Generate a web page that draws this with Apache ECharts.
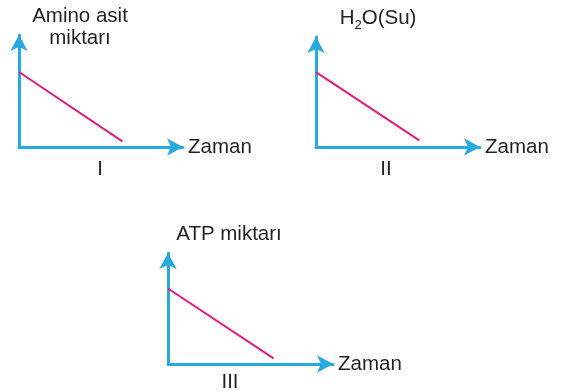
<!DOCTYPE html>
<html>
<head>
<meta charset="utf-8">
<script src="https://cdn.jsdelivr.net/npm/echarts@6/dist/echarts.min.js"></script>
<style>
  html, body { margin: 0; padding: 0; background: #fff; }
  #main { width: 562px; height: 392px; }
</style>
</head>
<body>
<div id="main"></div>
<script>
// each panel: one straight falling line, [time, amount]
var aminoLine = [[0, 6.7], [6.3, 0.5]];
var waterLine = [[0, 6.8], [6.3, 0.6]];
var atpLine = [[0, 6.8], [6.4, 0.5]];
var xName = 'Zaman';
var panelNames = ['I', 'II', 'III'];

var blue = '#27aae1';
var pink = '#e6197e';
var ink = '#231f20';
var font = 'Liberation Sans, Arial, sans-serif';

var grids = [
  { left: 19, top: 35, width: 164, height: 112 },
  { left: 316, top: 37, width: 164, height: 110 },
  { left: 168, top: 253, width: 165, height: 111 }
];

function xAx(i) {
  return {
    gridIndex: i, type: 'value', min: 0, max: 10,
    name: xName, nameLocation: 'end', nameGap: 5,
    nameTextStyle: { color: ink, fontSize: 20.5, fontFamily: font, verticalAlign: 'middle' },
    axisLine: { show: true, symbol: ['none', 'arrow'], symbolSize: [13, 16], lineStyle: { color: blue, width: 3 } },
    axisTick: { show: false }, axisLabel: { show: false }, splitLine: { show: false }
  };
}
function yAx(i) {
  return {
    gridIndex: i, type: 'value', min: 0, max: 10,
    axisLine: { show: true, symbol: ['none', 'arrow'], symbolSize: [13, 16], lineStyle: { color: blue, width: 3 } },
    axisTick: { show: false }, axisLabel: { show: false }, splitLine: { show: false }
  };
}
function lineSeries(i, data) {
  return {
    type: 'line', xAxisIndex: i, yAxisIndex: i, data: data,
    symbol: 'none', silent: true,
    lineStyle: { color: pink, width: 2 }
  };
}
function label(text, x, y, extra) {
  var style = { text: text, x: x, y: y, fill: ink, font: '20.5px ' + font, align: 'center', verticalAlign: 'middle' };
  if (extra) Object.assign(style, extra);
  return { type: 'text', style: style, silent: true };
}

var chart = echarts.init(document.getElementById('main'), null, { renderer: 'canvas' });
chart.setOption({
  animation: false,
  grid: grids,
  xAxis: [xAx(0), xAx(1), xAx(2)],
  yAxis: [yAx(0), yAx(1), yAx(2)],
  series: [lineSeries(0, aminoLine), lineSeries(1, waterLine), lineSeries(2, atpLine)],
  graphic: [
    label('Amino asit\nmiktarı', 80, 27, { lineHeight: 22 }),
    label('{a|H}{s|2}{a|O(Su)}', 378, 18, {
      rich: {
        a: { fontSize: 20.5, fontFamily: font, fill: ink },
        s: { fontSize: 13, fontFamily: font, fill: ink, padding: [14, 0, 0, 0] }
      }
    }),
    label('ATP miktarı', 229, 234),
    label(panelNames[0], 100, 169),
    label(panelNames[1], 386, 169),
    label(panelNames[2], 230, 382)
  ]
});
</script>
</body>
</html>
